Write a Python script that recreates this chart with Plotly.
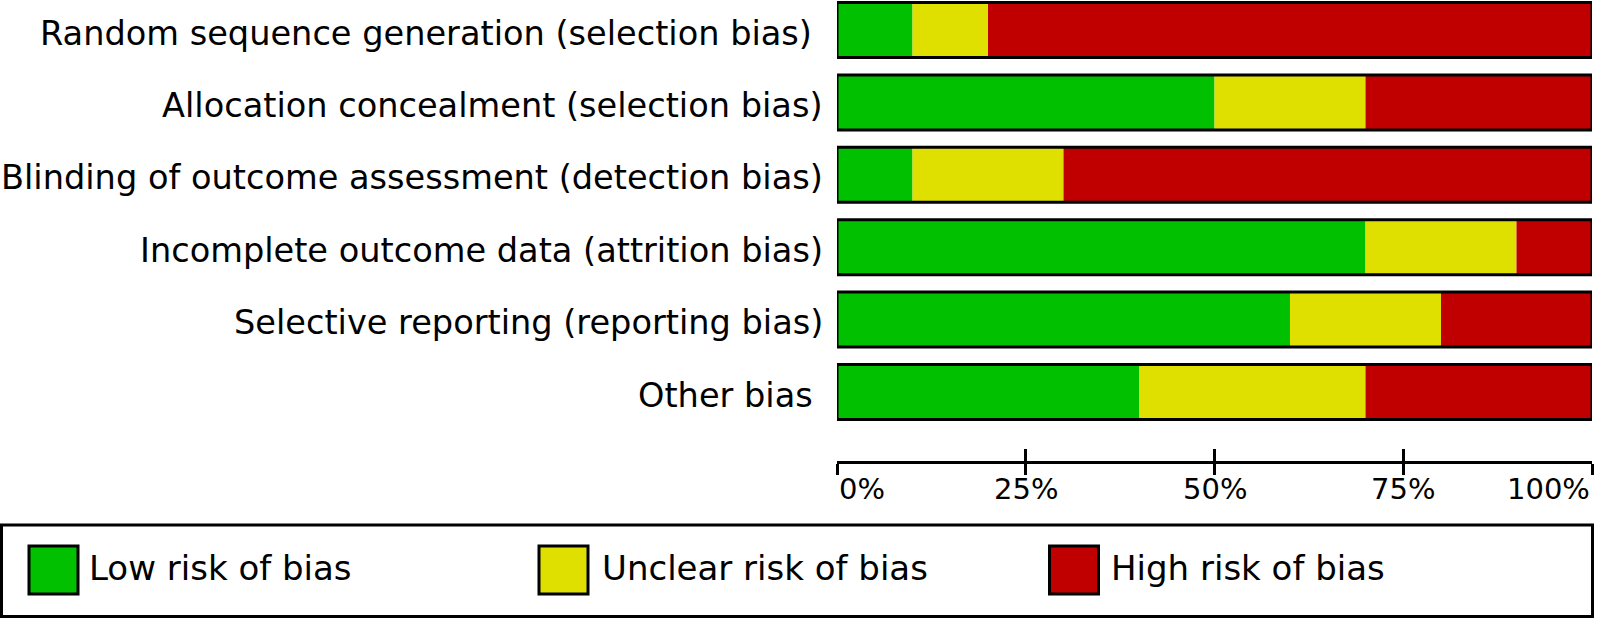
import plotly.graph_objects as go

categories = [
    "Random sequence generation (selection bias)\u00a0",
    "Allocation concealment (selection bias)",
    "Blinding of outcome assessment (detection bias)",
    "Incomplete outcome data (attrition bias)",
    "Selective reporting (reporting bias)",
    "Other bias\u00a0",
]
low = [10, 50, 10, 70, 60, 40]
unclear = [10, 20, 20, 20, 20, 30]
high = [80, 30, 70, 10, 20, 30]

series_names = ["Low risk of bias", "Unclear risk of bias", "High risk of bias"]
colors = ["rgb(0,192,0)", "rgb(224,224,0)", "rgb(192,0,0)"]

tick_vals = [0, 25, 50, 75, 100]
tick_labels = ["0%", "25%", "50%", "75%", "100%"]

W, H = 1597, 618
PL, PR = 837, 1592   # plot area x in px
PT, PB = 0, 461      # plot area y in px
FONT = "DejaVu Sans"

def px_x(p):
    return (p - PL) / (PR - PL)

def px_y(p):
    return (PB - p) / (PB - PT)

base_unclear = [a for a in low]
base_high = [a + b for a, b in zip(low, unclear)]
bar_w = 0.76

fig = go.Figure()
for vals, base, name, col in zip([low, unclear, high], [[0] * len(low), base_unclear, base_high], series_names, colors):
    fig.add_trace(go.Bar(
        y=categories, x=vals, base=base, orientation="h", name=name,
        marker=dict(color=col, line=dict(width=0)), width=bar_w, showlegend=False,
    ))
# outline around each full bar
fig.add_trace(go.Bar(
    y=categories, x=[a + b + c for a, b, c in zip(low, unclear, high)], base=[0] * len(low),
    orientation="h", marker=dict(color="rgba(0,0,0,0)", line=dict(width=3, color="black")),
    width=bar_w, showlegend=False, hoverinfo="skip",
))
# helper trace for the upper tick axis
fig.add_trace(go.Scatter(x=[0, 100], y=[categories[0], categories[0]], xaxis="x2", mode="markers",
                         marker=dict(opacity=0), showlegend=False, hoverinfo="skip"))

v_top = -(30 - PT) / 72.4
v_bot = (PB - 30) / 72.4

fig.update_layout(
    width=W, height=H,
    margin=dict(l=PL, r=W - PR, t=PT, b=H - PB, pad=0),
    paper_bgcolor="white", plot_bgcolor="white",
    barmode="overlay",
    showlegend=False,
    font=dict(family=FONT, color="black"),
    xaxis=dict(range=[0, 100], tickvals=tick_vals, showticklabels=False,
               ticks="outside", ticklen=11, tickwidth=3, tickcolor="black",
               showline=True, linewidth=3, linecolor="black", showgrid=False, zeroline=False),
    xaxis2=dict(range=[0, 100], overlaying="x", anchor="y", side="bottom", tickvals=tick_vals,
                showticklabels=False, ticks="inside", ticklen=12, tickwidth=3, tickcolor="black",
                showline=False, showgrid=False, zeroline=False),
    yaxis=dict(type="category", categoryorder="array", categoryarray=categories,
               range=[v_bot, v_top], showticklabels=False, showgrid=False, zeroline=False,
               showline=False, ticks=""),
)

annotations = []
# category labels
for c in categories:
    annotations.append(dict(x=0, xref="paper", xshift=-12, y=c, yref="y", yshift=-3, text=c,
                            showarrow=False, xanchor="right", yanchor="middle",
                            font=dict(size=33.6, family=FONT)))
# x tick labels
anchors = ["left", "center", "center", "center", "right"]
for v, t, a in zip(tick_vals, tick_labels, anchors):
    annotations.append(dict(x=v, xref="x", y=px_y(489), yref="paper", text=t, showarrow=False,
                            xanchor=a, yanchor="middle", font=dict(size=29, family=FONT)))

shapes = []
# legend box
shapes.append(dict(type="rect", xref="paper", yref="paper", x0=px_x(1.5), x1=px_x(1592.5),
                   y0=px_y(525), y1=px_y(616.5), line=dict(color="black", width=3), fillcolor="white"))
sq_x = [29, 539, 1049.5]
txt_x = [87, 600, 1108.5]
for sx, tx, name, col in zip(sq_x, txt_x, series_names, colors):
    shapes.append(dict(type="rect", xref="paper", yref="paper", x0=px_x(sx), x1=px_x(sx + 49),
                       y0=px_y(546), y1=px_y(594), line=dict(color="black", width=3), fillcolor=col))
    annotations.append(dict(x=px_x(tx), xref="paper", y=px_y(568), yref="paper", text=name,
                            showarrow=False, xanchor="left", yanchor="middle",
                            font=dict(size=34, family=FONT)))

fig.update_layout(annotations=annotations, shapes=shapes)
fig.write_html("out.html", config={"displayModeBar": False},
               post_script="document.body.style.margin='0px';document.body.style.overflow='hidden';")
